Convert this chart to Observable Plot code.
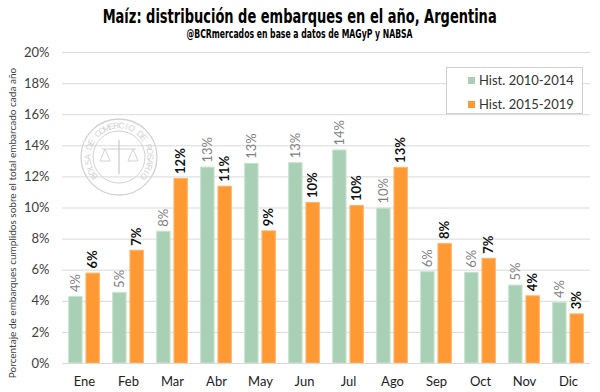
<!DOCTYPE html>
<html>
<head>
<meta charset="utf-8">
<script src="https://cdn.jsdelivr.net/npm/d3@7"></script>
<script src="https://cdn.jsdelivr.net/npm/@observablehq/plot@0.6"></script>
<style>
  html, body { margin: 0; padding: 0; background: #fff; }
  #wrap { position: relative; width: 600px; height: 392px; overflow: hidden; background: #fff; }
  #header { position: relative; width: 600px; height: 45px; }
  .hl { position: absolute; left: 0; width: 600px; text-align: center; color: #000; font-weight: bold;
    font-family: "Liberation Sans Narrow", "DejaVu Sans Condensed", "Liberation Sans", sans-serif; }
  .hl span { display: inline-block; white-space: nowrap; transform-origin: 50% 50%; }
  #title { top: 6px; font-size: 20px; line-height: 20px; }
  #subtitle { top: 28px; font-size: 11.5px; line-height: 13px; }
  #legend { position: absolute; left: 446px; top: 67px; width: 135px; height: 45px; background: #fff;
    border: 1px solid #cfcfcf; font-family: Lato, sans-serif; font-size: 13px; color: #333; }
  .item { position: absolute; left: 21px; height: 16px; line-height: 16px; white-space: nowrap; }
  .sw { display: inline-block; width: 7px; height: 7px; margin-right: 4px; vertical-align: 1px; }
</style>
</head>
<body>
<div id="wrap">
  <div id="header">
    <div id="title" class="hl"><span>Maíz: distribución de embarques en el año, Argentina</span></div>
    <div id="subtitle" class="hl"><span>@BCRmercados en base a datos de MAGyP y NABSA</span></div>
  </div>
  <div id="chart"></div>
  <div id="legend"></div>
</div>
<script>
// ---- data ----
const months = ["Ene", "Feb", "Mar", "Abr", "May", "Jun", "Jul", "Ago", "Sep", "Oct", "Nov", "Dic"];
const hist2010 = [4.28, 4.54, 8.47, 12.6, 12.84, 12.88, 13.7, 9.96, 5.87, 5.83, 5.01, 3.89];
const hist2015 = [5.78, 7.25, 11.87, 11.37, 8.5, 10.32, 10.13, 12.58, 7.68, 6.73, 4.32, 3.16];
const seriesNames = ["Hist. 2010-2014", "Hist. 2015-2019"];
const seriesColors = ["#a9d0b5", "#ff9933"];
const yTicks = [0, 2, 4, 6, 8, 10, 12, 14, 16, 18, 20];
const yLabel = "Porcentaje de embarques cumplidos sobre el total embarcado cada año";
const sealText = "BOLSA DE COMERCIO DE ROSARIO";

const rowsA = months.map((m, i) => ({month: m, value: hist2010[i]}));
const rowsB = months.map((m, i) => ({month: m, value: hist2015[i]}));

const off = 8.65, inset = 15.3;

const svg = Plot.plot({
  width: 600,
  height: 347,
  marginLeft: 62,
  marginRight: 10,
  marginTop: 7,
  marginBottom: 29,
  x: {domain: months, padding: 0},
  y: {domain: [0, 20]},
  style: {fontFamily: "Lato, sans-serif", fontSize: "13px", background: "white", overflow: "visible"},
  marks: [
    Plot.gridY(yTicks, {stroke: "#d9d9d9", strokeOpacity: 1}),
    Plot.axisY(yTicks, {tickSize: 0, tickPadding: 13, tickFormat: d => d + "%", label: null, fill: "#404040"}),
    Plot.axisX({tickSize: 0, tickPadding: 13.5, label: null, fill: "#222"}),
    Plot.barY(rowsA, {x: "month", y: "value", fill: seriesColors[0], stroke: "#c8e2d0", strokeWidth: 1,
      insetLeft: inset, insetRight: inset, dx: -off}),
    Plot.barY(rowsB, {x: "month", y: "value", fill: seriesColors[1], stroke: "#ffb366", strokeWidth: 1,
      insetLeft: inset, insetRight: inset, dx: off}),
    Plot.ruleY([0], {stroke: "#d9d9d9"}),
    Plot.text(rowsA, {x: "month", y: "value", text: d => Math.round(d.value) + "%", rotate: -90,
      textAnchor: "start", dx: -off, dy: -5, fill: "#7f7f7f", fontSize: 13}),
    Plot.text(rowsB, {x: "month", y: "value", text: d => Math.round(d.value) + "%", rotate: -90,
      textAnchor: "start", dx: off, dy: -5, fill: "#111", fontWeight: "bold", fontSize: 13}),
    Plot.text([yLabel], {text: d => d, frameAnchor: "left", textAnchor: "middle", rotate: -90, dx: -50, dy: 15,
      fontSize: 10, fill: "#404040"})
  ]
});
document.getElementById("chart").appendChild(svg);

// faint watermark seal, placed behind the bars
const firstBar = svg.querySelector("g[aria-label='bar']");
const wmNode = document.createElementNS("http://www.w3.org/2000/svg", "g");
svg.insertBefore(wmNode, firstBar);
const wm = d3.select(wmNode);
const cx = 119, cy = 112, R = 38;
const sealColor = "#d2d2d2";
wm.append("circle").attr("cx", cx).attr("cy", cy).attr("r", R).attr("fill", "none").attr("stroke", sealColor).attr("stroke-width", 1.3);
wm.append("circle").attr("cx", cx).attr("cy", cy).attr("r", 26).attr("fill", "none").attr("stroke", sealColor).attr("stroke-width", 1);
const chars = sealText.split("");
const a0 = -128, a1 = 128, rText = 28.5;
chars.forEach((ch, i) => {
  const a = a0 + (a1 - a0) * i / (chars.length - 1);
  const rad = a * Math.PI / 180;
  const px = cx + rText * Math.sin(rad), py = cy - rText * Math.cos(rad);
  wm.append("text").attr("transform", `translate(${px},${py}) rotate(${a})`)
    .attr("text-anchor", "middle").attr("font-family", "Liberation Sans, sans-serif")
    .attr("font-size", 8.5).attr("fill", sealColor).text(ch);
});
// simple balance emblem
wm.append("line").attr("x1", cx).attr("x2", cx).attr("y1", cy - 17).attr("y2", cy + 17).attr("stroke", sealColor).attr("stroke-width", 1.5);
wm.append("line").attr("x1", cx - 17).attr("x2", cx + 17).attr("y1", cy - 8).attr("y2", cy - 8).attr("stroke", sealColor).attr("stroke-width", 1.2);
[-14, 14].forEach(s => {
  wm.append("path").attr("fill", "none").attr("stroke", sealColor)
    .attr("d", `M ${cx + s} ${cy - 8} L ${cx + s - 5} ${cy + 4} L ${cx + s + 5} ${cy + 4} Z`);
});

// legend
const legend = document.getElementById("legend");
seriesNames.forEach((name, i) => {
  const it = document.createElement("div");
  it.className = "item";
  it.style.top = (i === 0 ? 3.5 : 27.5) + "px";
  it.innerHTML = `<span class="sw" style="background:${seriesColors[i]}"></span>${name}`;
  legend.appendChild(it);
});

// fit header texts to the reference widths
[["#title span", 394], ["#subtitle span", 226]].forEach(([sel, w]) => {
  const el = document.querySelector(sel);
  const cw = el.getBoundingClientRect().width;
  el.style.transform = `scaleX(${w / cw})`;
});
</script>
</body>
</html>
